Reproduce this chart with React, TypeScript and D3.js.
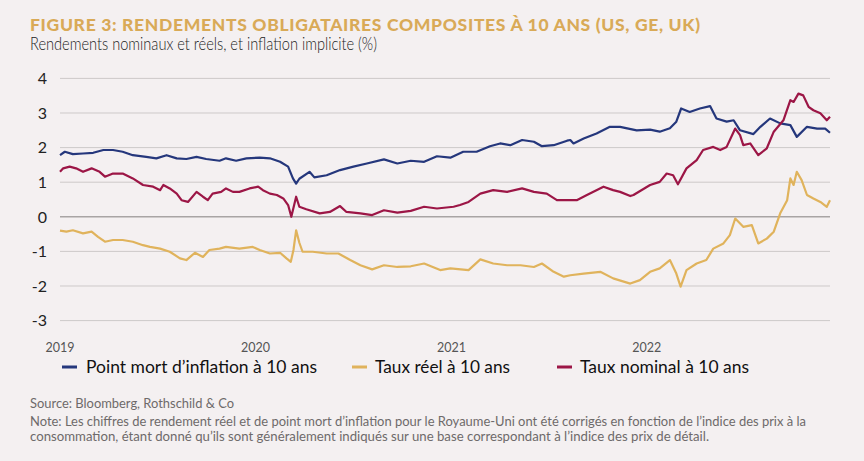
import React from 'react';
import * as d3 from 'd3';

// 10y breakeven inflation (blue)
const breakeven: [string, number][] = [
  ['2019-01-01', 1.78], ['2019-01-10', 1.88], ['2019-01-25', 1.81], ['2019-02-13', 1.83],
  ['2019-03-04', 1.85], ['2019-03-23', 1.93], ['2019-04-10', 1.93], ['2019-04-28', 1.88],
  ['2019-05-17', 1.78], ['2019-06-11', 1.73], ['2019-06-30', 1.69], ['2019-07-19', 1.78],
  ['2019-08-07', 1.69], ['2019-08-25', 1.67], ['2019-09-13', 1.73], ['2019-10-01', 1.67],
  ['2019-10-26', 1.62], ['2019-11-07', 1.69], ['2019-11-26', 1.62], ['2019-12-15', 1.69],
  ['2020-01-09', 1.71], ['2020-01-28', 1.69], ['2020-02-16', 1.59], ['2020-03-02', 1.45],
  ['2020-03-11', 1.11], ['2020-03-17', 0.96], ['2020-03-23', 1.10], ['2020-04-11', 1.30],
  ['2020-04-20', 1.14], ['2020-05-13', 1.20], ['2020-06-07', 1.35], ['2020-07-02', 1.45],
  ['2020-07-27', 1.54], ['2020-08-28', 1.66], ['2020-09-22', 1.54], ['2020-10-17', 1.62],
  ['2020-11-11', 1.59], ['2020-12-05', 1.75], ['2020-12-30', 1.71], ['2021-01-23', 1.88],
  ['2021-02-17', 1.88], ['2021-03-14', 2.04], ['2021-04-02', 2.12], ['2021-04-21', 2.07],
  ['2021-05-13', 2.22], ['2021-06-04', 2.17], ['2021-06-19', 2.04], ['2021-07-11', 2.07],
  ['2021-08-05', 2.20], ['2021-08-11', 2.22], ['2021-08-17', 2.12], ['2021-09-05', 2.26],
  ['2021-09-29', 2.41], ['2021-10-24', 2.60], ['2021-11-12', 2.60], ['2021-12-13', 2.50],
  ['2022-01-07', 2.52], ['2022-01-25', 2.46], ['2022-02-13', 2.56], ['2022-02-25', 2.75],
  ['2022-03-06', 3.13], ['2022-03-22', 3.03], ['2022-04-10', 3.13], ['2022-04-29', 3.20],
  ['2022-05-11', 2.84], ['2022-05-30', 2.75], ['2022-06-12', 2.79], ['2022-06-24', 2.50],
  ['2022-07-19', 2.39], ['2022-08-01', 2.60], ['2022-08-19', 2.84], ['2022-09-07', 2.70],
  ['2022-09-26', 2.65], ['2022-10-08', 2.31], ['2022-10-27', 2.60], ['2022-11-15', 2.55],
  ['2022-11-30', 2.55], ['2022-12-09', 2.43],
];

// 10y real yield (yellow)
const realYield: [string, number][] = [
  ['2019-01-01', -0.40], ['2019-01-13', -0.43], ['2019-01-25', -0.39], ['2019-02-13', -0.48],
  ['2019-03-01', -0.43], ['2019-03-13', -0.58], ['2019-03-26', -0.72], ['2019-04-10', -0.67],
  ['2019-04-28', -0.67], ['2019-05-17', -0.72], ['2019-06-05', -0.82], ['2019-06-18', -0.87],
  ['2019-07-07', -0.92], ['2019-07-25', -1.01], ['2019-08-13', -1.20], ['2019-08-25', -1.25],
  ['2019-09-10', -1.04], ['2019-09-25', -1.16], ['2019-10-07', -0.96], ['2019-10-26', -0.92],
  ['2019-11-07', -0.87], ['2019-12-02', -0.92], ['2019-12-27', -0.87], ['2020-01-09', -0.96],
  ['2020-01-28', -1.06], ['2020-02-16', -1.04], ['2020-02-28', -1.20], ['2020-03-07', -1.30],
  ['2020-03-12', -0.96], ['2020-03-17', -0.39], ['2020-03-23', -0.75], ['2020-03-29', -1.01],
  ['2020-04-17', -1.01], ['2020-05-13', -1.06], ['2020-06-04', -1.06], ['2020-06-26', -1.25],
  ['2020-07-15', -1.40], ['2020-08-06', -1.52], ['2020-08-28', -1.40], ['2020-09-22', -1.45],
  ['2020-10-17', -1.43], ['2020-11-11', -1.35], ['2020-12-11', -1.54], ['2020-12-30', -1.49],
  ['2021-02-02', -1.54], ['2021-02-24', -1.23], ['2021-03-20', -1.35], ['2021-04-15', -1.40],
  ['2021-05-10', -1.40], ['2021-06-04', -1.45], ['2021-06-19', -1.35], ['2021-07-11', -1.59],
  ['2021-07-30', -1.73], ['2021-08-11', -1.69], ['2021-09-05', -1.64], ['2021-10-06', -1.59],
  ['2021-10-30', -1.78], ['2021-12-01', -1.93], ['2021-12-19', -1.83], ['2022-01-07', -1.59],
  ['2022-01-25', -1.49], ['2022-02-13', -1.25], ['2022-02-25', -1.64], ['2022-03-05', -2.02],
  ['2022-03-16', -1.54], ['2022-04-04', -1.35], ['2022-04-22', -1.25], ['2022-05-05', -0.92],
  ['2022-05-24', -0.77], ['2022-06-05', -0.53], ['2022-06-15', -0.05], ['2022-06-30', -0.29],
  ['2022-07-16', -0.24], ['2022-07-28', -0.77], ['2022-08-13', -0.63], ['2022-08-26', -0.43],
  ['2022-09-07', 0.10], ['2022-09-20', 0.48], ['2022-09-26', 1.11], ['2022-10-02', 0.92],
  ['2022-10-08', 1.30], ['2022-10-17', 1.06], ['2022-10-27', 0.63], ['2022-11-08', 0.53],
  ['2022-11-21', 0.43], ['2022-12-03', 0.29], ['2022-12-09', 0.48],
];

// 10y nominal yield (red)
const nominalYield: [string, number][] = [
  ['2019-01-01', 1.30], ['2019-01-07', 1.40], ['2019-01-19', 1.45], ['2019-01-31', 1.40],
  ['2019-02-13', 1.30], ['2019-03-01', 1.40], ['2019-03-16', 1.30], ['2019-03-26', 1.16],
  ['2019-04-10', 1.25], ['2019-04-28', 1.25], ['2019-05-17', 1.11], ['2019-06-05', 0.92],
  ['2019-06-24', 0.87], ['2019-07-07', 0.77], ['2019-07-13', 0.92], ['2019-07-25', 0.82],
  ['2019-08-07', 0.67], ['2019-08-16', 0.48], ['2019-08-28', 0.43], ['2019-09-13', 0.72],
  ['2019-09-25', 0.58], ['2019-10-04', 0.48], ['2019-10-13', 0.67], ['2019-10-29', 0.72],
  ['2019-11-07', 0.82], ['2019-11-20', 0.72], ['2019-12-02', 0.72], ['2019-12-21', 0.82],
  ['2020-01-06', 0.87], ['2020-01-15', 0.77], ['2020-01-28', 0.67], ['2020-02-10', 0.63],
  ['2020-02-22', 0.53], ['2020-03-02', 0.34], ['2020-03-08', 0.00], ['2020-03-17', 0.58],
  ['2020-03-23', 0.29], ['2020-04-05', 0.22], ['2020-04-30', 0.10], ['2020-05-19', 0.14],
  ['2020-06-07', 0.31], ['2020-06-19', 0.14], ['2020-07-15', 0.10], ['2020-08-06', 0.05],
  ['2020-08-28', 0.19], ['2020-09-22', 0.12], ['2020-10-17', 0.17], ['2020-11-11', 0.29],
  ['2020-12-05', 0.24], ['2021-01-05', 0.29], ['2021-01-17', 0.34], ['2021-02-02', 0.43],
  ['2021-02-24', 0.67], ['2021-03-20', 0.77], ['2021-04-15', 0.72], ['2021-05-13', 0.82],
  ['2021-06-04', 0.72], ['2021-06-28', 0.67], ['2021-07-17', 0.48], ['2021-08-05', 0.48],
  ['2021-08-23', 0.48], ['2021-09-11', 0.63], ['2021-10-12', 0.87], ['2021-10-30', 0.77],
  ['2021-11-12', 0.72], ['2021-12-01', 0.60], ['2021-12-07', 0.63], ['2022-01-07', 0.92],
  ['2022-01-25', 1.01], ['2022-02-07', 1.25], ['2022-02-19', 1.20], ['2022-02-28', 0.94],
  ['2022-03-16', 1.40], ['2022-04-04', 1.64], ['2022-04-16', 1.93], ['2022-05-05', 2.02],
  ['2022-05-18', 1.93], ['2022-05-30', 2.02], ['2022-06-15', 2.55], ['2022-06-24', 2.36],
  ['2022-06-30', 2.07], ['2022-07-13', 2.12], ['2022-07-28', 1.78], ['2022-08-13', 1.98],
  ['2022-08-26', 2.46], ['2022-09-13', 2.79], ['2022-09-26', 3.37], ['2022-10-02', 3.32],
  ['2022-10-11', 3.56], ['2022-10-20', 3.51], ['2022-10-30', 3.18], ['2022-11-08', 3.08],
  ['2022-11-21', 2.99], ['2022-12-03', 2.79], ['2022-12-09', 2.89],
];

const yTicks = [4, 3, 2, 1, 0, -1, -2, -3];
const xTickYears = ['2019', '2020', '2021', '2022'];

const seriesList = [
  { name: 'Point mort d\u2019inflation à 10 ans', data: breakeven, color: '#25377c' },
  { name: 'Taux réel à 10 ans', data: realYield, color: '#e0b35c' },
  { name: 'Taux nominal à 10 ans', data: nominalYield, color: '#9c1646' },
];

const parse = d3.timeParse('%Y-%m-%d');
const font = 'Lato, "Noto Sans", sans-serif';

export default function App() {
  const width = 864;
  const height = 461;

  const x = d3
    .scaleTime()
    .domain([parse('2019-01-01') as Date, parse('2022-12-09') as Date])
    .range([60, 830]);

  const y = d3.scaleLinear().domain([-3, 4]).range([320.6, 78.4]);

  const line = d3
    .line<[string, number]>()
    .x(d => x(parse(d[0]) as Date))
    .y(d => y(d[1]));

  // legend layout (swatch x, text x, text width)
  const legendPos = [
    { sx: 62, tx: 86, tw: 231 },
    { sx: 352, tx: 375, tw: 135 },
    { sx: 557, tx: 580, tw: 169 },
  ];

  return (
    <svg
      width={width}
      height={height}
      style={{ position: 'absolute', left: 0, top: 0, background: '#f4f0f1' }}
    >
      <rect width={width} height={height} fill="#f4f0f1" />

      <text
        x={30}
        y={31}
        fontFamily={font}
        fontWeight={900}
        fontSize={17.5}
        fill="#d9aa57"
        textLength={670}
        lengthAdjust="spacing"
      >
        FIGURE 3: RENDEMENTS OBLIGATAIRES COMPOSITES À 10 ANS (US, GE, UK)
      </text>
      <text
        x={30}
        y={50}
        fontFamily={font}
        fontWeight={300}
        fontSize={16.8}
        fill="#222"
        textLength={347}
        lengthAdjust="spacingAndGlyphs"
      >
        Rendements nominaux et réels, et inflation implicite (%)
      </text>

      {/* grid */}
      {yTicks.map(t => (
        <g key={t}>
          <line
            x1={60}
            x2={830}
            y1={y(t)}
            y2={y(t)}
            stroke={t === 0 ? '#a8a4a4' : '#cdc9c9'}
            strokeWidth={t === 0 ? 1.4 : 1}
          />
          <text
            x={47}
            y={y(t)}
            dy="0.36em"
            textAnchor="end"
            fontFamily={font}
            fontSize={16}
            fill="#222"
          >
            {t}
          </text>
        </g>
      ))}

      {xTickYears.map(yr => (
        <text
          key={yr}
          x={x(parse(`${yr}-01-01`) as Date)}
          y={352}
          textAnchor="middle"
          fontFamily={font}
          fontSize={12.5}
          fill="#555"
        >
          {yr}
        </text>
      ))}

      {seriesList.map(s => (
        <path
          key={s.name}
          d={line(s.data) || ''}
          fill="none"
          stroke={s.color}
          strokeWidth={2.2}
          strokeLinejoin="round"
        />
      ))}

      {/* legend */}
      {seriesList.map((s, i) => (
        <g key={s.name}>
          <line
            x1={legendPos[i].sx}
            x2={legendPos[i].sx + 15}
            y1={367}
            y2={367}
            stroke={s.color}
            strokeWidth={3}
          />
          <text
            x={legendPos[i].tx}
            y={373}
            fontFamily={font}
            fontSize={17.5}
            fill="#111"
            textLength={legendPos[i].tw}
            lengthAdjust="spacingAndGlyphs"
          >
            {s.name}
          </text>
        </g>
      ))}

      {/* footnotes */}
      <text x={30} y={408} fontFamily={font} fontSize={13} fill="#6e6a6a" textLength={204} lengthAdjust="spacingAndGlyphs">
        Source: Bloomberg, Rothschild &amp; Co
      </text>
      <text x={30} y={426} fontFamily={font} fontSize={13} fill="#6e6a6a" textLength={776} lengthAdjust="spacingAndGlyphs">
        Note: Les chiffres de rendement réel et de point mort d’inflation pour le Royaume-Uni ont été corrigés en fonction de l’indice des prix à la
      </text>
      <text x={30} y={441} fontFamily={font} fontSize={13} fill="#6e6a6a" textLength={679} lengthAdjust="spacingAndGlyphs">
        consommation, étant donné qu’ils sont généralement indiqués sur une base correspondant à l’indice des prix de détail.
      </text>
    </svg>
  );
}
